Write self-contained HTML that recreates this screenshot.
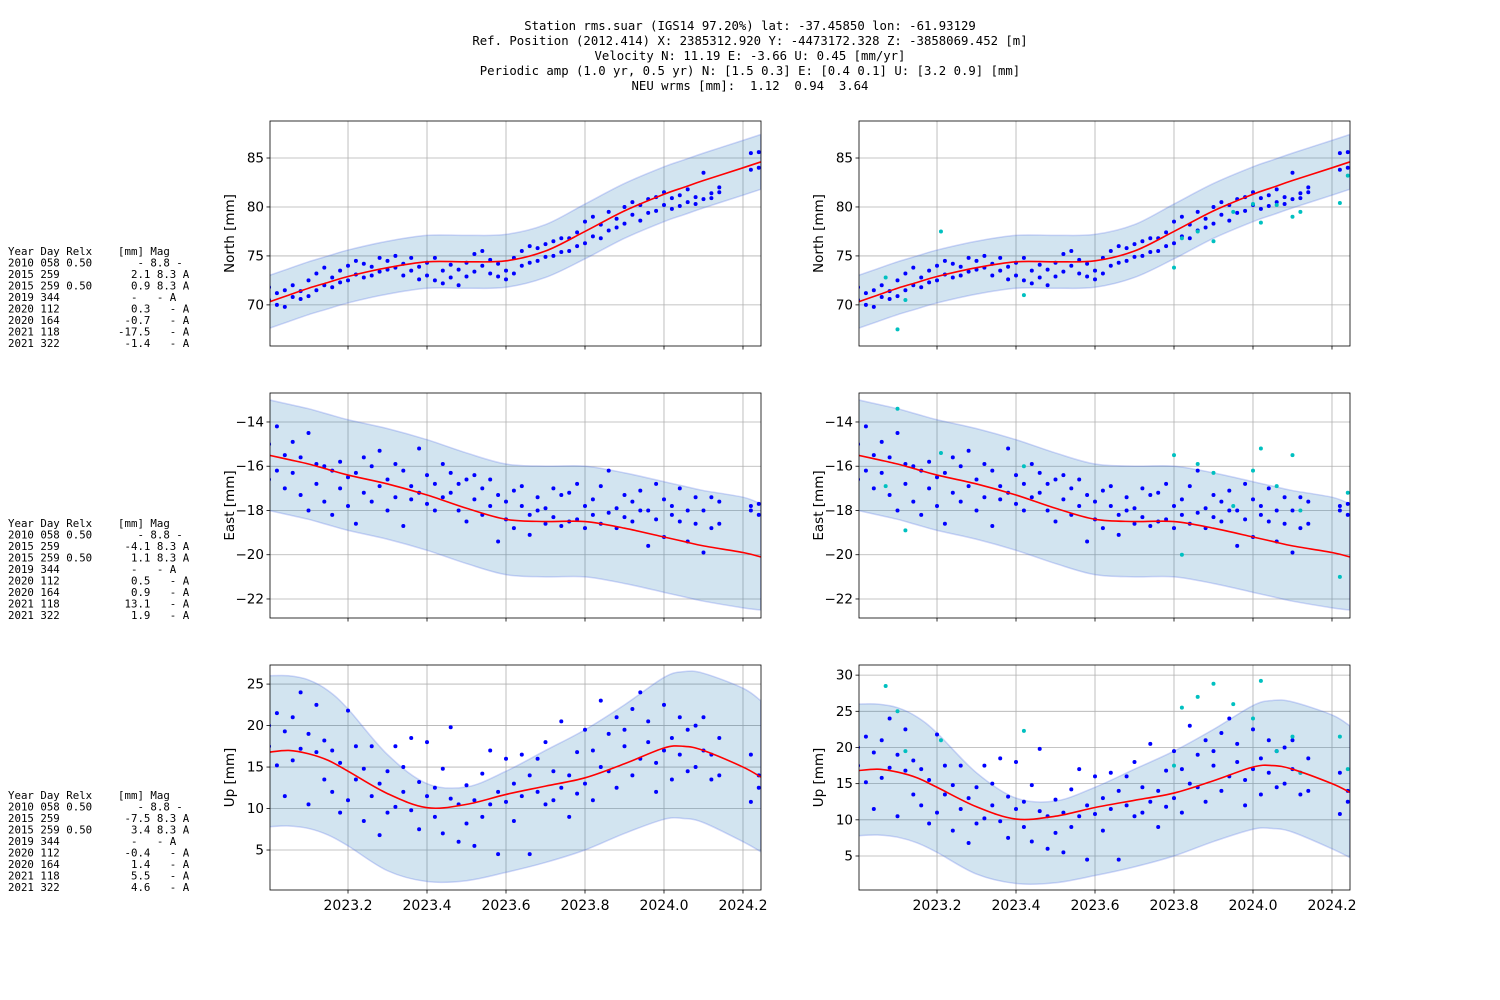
<!DOCTYPE html>
<html><head><meta charset="utf-8"><style>
body{margin:0;background:#fff;}
svg{display:block;font-family:"DejaVu Sans","Liberation Sans",sans-serif;}
.mono{font-family:"DejaVu Sans Mono","Liberation Mono",monospace;}
</style></head><body>
<svg id="fig" width="1500" height="1000" viewBox="0 0 1500 1000">
<rect width="1500" height="1000" fill="#fff"/>
<g class="mono" font-size="12.3" text-anchor="middle" fill="#000">
<text x="750" y="30" xml:space="preserve">Station rms.suar (IGS14 97.20%) lat: -37.45850 lon: -61.93129</text>
<text x="750" y="45" xml:space="preserve">Ref. Position (2012.414) X: 2385312.920 Y: -4473172.328 Z: -3858069.452 [m]</text>
<text x="750" y="60" xml:space="preserve">Velocity N: 11.19 E: -3.66 U: 0.45 [mm/yr]</text>
<text x="750" y="75" xml:space="preserve">Periodic amp (1.0 yr, 0.5 yr) N: [1.5 0.3] E: [0.4 0.1] U: [3.2 0.9] [mm]</text>
<text x="750" y="90" xml:space="preserve">NEU wrms [mm]:  1.12  0.94  3.64</text>
</g>
</svg>
<script>
const times=[2023.00,2023.02,2023.04,2023.06,2023.08,2023.10,2023.12,2023.14,2023.16,2023.18,2023.20,2023.22,2023.24,2023.26,2023.28,2023.30,2023.32,2023.34,2023.36,2023.38,2023.40,2023.42,2023.44,2023.46,2023.48,2023.50,2023.52,2023.54,2023.56,2023.58,2023.60,2023.62,2023.64,2023.66,2023.68,2023.70,2023.72,2023.74,2023.76,2023.78,2023.80,2023.82,2023.84,2023.86,2023.88,2023.90,2023.92,2023.94,2023.96,2023.98,2024.00,2024.02,2024.04,2024.06,2024.08,2024.10,2024.12,2024.14,2024.16,2024.18,2024.20,2024.22,2024.24];
const northA=[70.5,71.2,71.5,70.8,71.4,72.5,73.2,72.0,72.8,73.5,74.0,73.1,72.8,73.9,74.8,73.6,75.0,74.2,74.8,73.9,73.0,72.5,73.5,74.1,73.6,74.3,75.2,74.0,73.2,72.9,73.5,74.8,75.5,74.3,75.8,76.2,75.0,75.4,76.8,77.4,78.5,77.0,78.2,79.5,77.9,80.0,79.2,78.6,80.8,81.0,80.2,79.8,81.2,80.5,81.0,80.8,81.4,82.0,null,null,null,83.8,85.6];
const northB=[71.8,70.0,69.8,72.0,70.6,70.9,71.5,73.8,71.8,72.3,72.5,74.5,74.2,73.0,73.4,74.5,73.8,73.0,73.5,72.6,74.3,74.8,72.2,72.8,72.0,72.9,73.4,75.5,74.6,74.2,72.6,73.2,74.0,76.0,74.5,74.9,76.5,76.8,75.5,76.0,76.3,79.0,76.8,77.6,78.8,78.3,80.5,80.2,79.4,79.6,81.5,80.9,80.1,81.8,80.3,83.5,80.9,81.5,null,null,null,85.5,84.0];
const eastA=[-15.0,-14.2,-15.5,-14.9,-15.6,-14.5,-16.8,-17.6,-16.2,-17.0,-16.5,-18.6,-15.6,-16.0,-15.3,-16.6,-17.4,-16.2,-16.9,-15.2,-16.4,-16.8,-15.9,-17.2,-18.0,-16.6,-17.5,-17.0,-16.6,-19.4,-17.6,-17.1,-17.8,-19.1,-17.4,-17.9,-17.0,-18.7,-17.2,-18.4,-17.8,-17.5,-16.9,-16.2,-17.9,-18.3,-17.6,-18.0,-19.6,-16.8,-17.5,-18.2,-17.0,-18.0,-17.4,-19.9,-17.4,-17.6,null,null,null,-17.8,-18.2];
const eastB=[-16.6,-16.2,-17.0,-16.3,-17.3,-18.0,-15.9,-16.0,-18.2,-15.8,-17.8,-16.3,-17.2,-17.6,-16.9,-18.0,-15.9,-18.7,-17.5,-17.2,-17.7,-18.0,-17.4,-16.3,-16.8,-18.5,-16.4,-18.2,-17.8,-17.3,-18.4,-18.8,-16.9,-18.2,-18.0,-18.6,-18.3,-17.3,-18.5,-16.8,-18.8,-18.2,-18.6,-18.1,-18.8,-17.3,-18.5,-17.1,-18.0,-18.4,-19.2,-17.8,-18.5,-19.4,-18.6,-18.0,-18.8,-18.6,null,null,null,-18.0,-17.7];
const upA=[17.5,15.2,19.3,21.0,24.0,10.5,16.8,18.2,12.0,15.5,21.8,13.5,8.5,11.5,6.8,14.5,17.5,12.0,9.8,13.2,18.0,12.5,14.8,19.8,6.0,12.8,5.5,14.2,17.0,12.0,16.0,8.5,11.5,4.5,12.0,10.5,14.5,20.5,9.0,16.8,19.5,11.0,23.0,19.0,21.0,17.5,14.0,24.0,18.0,15.5,17.0,13.5,16.5,19.5,15.0,21.0,16.5,18.5,null,null,null,16.5,12.5];
const upB=[20.0,21.5,11.5,15.8,17.2,19.0,22.5,13.5,17.0,9.5,11.0,17.5,14.8,17.5,13.0,9.5,10.2,15.0,18.5,7.5,11.5,9.0,7.0,11.2,10.5,8.2,11.0,9.0,10.5,4.5,10.8,13.0,16.5,14.0,16.0,18.0,11.0,12.5,14.0,11.8,13.0,17.0,15.0,14.5,12.5,19.5,22.0,16.0,20.5,12.0,22.5,18.5,21.0,14.5,20.0,17.0,13.5,14.0,null,null,null,10.8,14.0];
const cyanT=[2023.07,2023.10,2023.12,2023.21,2023.42,2023.80,2023.82,2023.86,2023.90,2023.95,2024.00,2024.02,2024.06,2024.10,2024.12,2024.22,2024.24];
const cyanN=[72.8,67.5,70.5,77.5,71.0,73.8,76.8,77.5,76.5,79.5,80.3,78.4,80.2,79.0,79.5,80.4,83.2];
const cyanE=[-16.9,-13.4,-18.9,-15.4,-16.0,-15.5,-20.0,-15.9,-16.3,-17.8,-16.2,-15.2,-16.9,-15.5,-18.0,-21.0,-17.2];
const cyanU=[28.5,25.0,19.5,21.0,22.3,17.5,25.5,27.0,28.8,26.0,24.0,29.2,19.5,21.5,16.5,21.5,17.0];
const modelT=[2023.0,2023.05,2023.1,2023.15,2023.2,2023.3,2023.4,2023.5,2023.6,2023.7,2023.8,2023.9,2024.0,2024.05,2024.1,2024.2,2024.245];
const modelN=[70.3,71.0,71.7,72.3,72.9,73.8,74.4,74.4,74.5,75.5,77.5,79.6,81.3,82.0,82.7,84.0,84.6];
const modelE=[-15.5,-15.7,-15.9,-16.15,-16.4,-16.8,-17.3,-17.9,-18.4,-18.5,-18.5,-18.8,-19.2,-19.4,-19.6,-19.9,-20.1];
const modelU=[16.8,17.0,16.6,15.8,14.5,11.8,10.1,10.5,11.7,12.7,13.7,15.4,17.3,17.5,17.0,15.0,13.8];
const bandN=[2.7,2.7,2.7,2.7,2.7,2.7,2.7,2.7,2.7,2.7,2.8,2.8,2.8,2.8,2.8,2.8,2.8];
const bandE=[2.5,2.5,2.5,2.5,2.5,2.5,2.5,2.5,2.5,2.5,2.5,2.5,2.5,2.5,2.5,2.5,2.4];
const upUpper=[26.0,26.0,25.5,24.2,22.0,16.5,13.0,12.6,14.5,17.0,19.5,22.5,25.8,26.5,26.3,24.5,23.0];
const upLower=[7.8,7.9,7.6,6.8,5.5,2.5,1.2,1.3,2.3,3.5,5.0,7.0,8.7,8.8,8.3,6.0,4.8];
const xTicks=[2023.2,2023.4,2023.6,2023.8,2024.0,2024.2];
const xTickLabels=["2023.2","2023.4","2023.6","2023.8","2024.0","2024.2"];
const nTicks=[70,75,80,85], eTicks=[-14,-16,-18,-20,-22], uTicksL=[5,10,15,20,25], uTicksR=[5,10,15,20,25,30];
const legendLines=[
["Year Day Relx    [mm] Mag","2010 058 0.50       - 8.8 -","2015 259           2.1 8.3 A","2015 259 0.50      0.9 8.3 A","2019 344           -   - A","2020 112           0.3   - A","2020 164          -0.7   - A","2021 118         -17.5   - A","2021 322          -1.4   - A"],
["Year Day Relx    [mm] Mag","2010 058 0.50       - 8.8 -","2015 259          -4.1 8.3 A","2015 259 0.50      1.1 8.3 A","2019 344           -   - A","2020 112           0.5   - A","2020 164           0.9   - A","2021 118          13.1   - A","2021 322           1.9   - A"],
["Year Day Relx    [mm] Mag","2010 058 0.50       - 8.8 -","2015 259          -7.5 8.3 A","2015 259 0.50      3.4 8.3 A","2019 344           -   - A","2020 112          -0.4   - A","2020 164           1.4   - A","2021 118           5.5   - A","2021 322           4.6   - A"]];

const NS="http://www.w3.org/2000/svg";
const svg=document.getElementById('fig');
function mk(tag,attrs,parent){const e=document.createElementNS(NS,tag);for(const k in attrs)e.setAttribute(k,attrs[k]);(parent||svg).appendChild(e);return e;}
function smooth(pts){let d='M'+pts[0][0]+','+pts[0][1];
  for(let i=0;i<pts.length-1;i++){const p0=pts[Math.max(0,i-1)],p1=pts[i],p2=pts[i+1],p3=pts[Math.min(pts.length-1,i+2)];
    const c1=[p1[0]+(p2[0]-p0[0])/6,p1[1]+(p2[1]-p0[1])/6],c2=[p2[0]-(p3[0]-p1[0])/6,p2[1]-(p3[1]-p1[1])/6];
    d+='C'+c1.join(',')+' '+c2.join(',')+' '+p2.join(',');}
  return d;}
const X0=2023.0025, X1=2024.2456;
function panel(px,py,ymin,ymax,yTicks,label,model,upperArr,lowerArr,sA,sB,cyan,showX,name){
  const W=491,H=225;
  const g=mk('g',{});
  
  
  const xs=t=>px+(t-X0)/(X1-X0)*W;
  const ys=v=>py+(ymax-v)/(ymax-ymin)*H;
  const clipId='c'+name;
  const cp=mk('clipPath',{id:clipId},g);mk('rect',{x:px,y:py,width:W,height:H},cp);
  const inner=mk('g',{'clip-path':'url(#'+clipId+')'},g);
  xTicks.forEach(t=>{const l=mk('line',{x1:xs(t),x2:xs(t),y1:py,y2:py+H,stroke:'#b0b0b0','stroke-width':0.8},inner);});
  yTicks.forEach(v=>{const l=mk('line',{x1:px,x2:px+W,y1:ys(v),y2:ys(v),stroke:'#b0b0b0','stroke-width':0.8},inner);});
  const up=modelT.map((t,i)=>[xs(t),ys(upperArr[i])]);
  const lo=modelT.map((t,i)=>[xs(t),ys(lowerArr[i])]).reverse();
  const bd=smooth(up)+'L'+smooth(lo).slice(1)+'Z';
  const band=mk('path',{d:bd,fill:'rgba(31,119,180,0.2)',stroke:'rgba(70,100,230,0.25)','stroke-width':1.5},inner);
  
  
  [sA,sB].forEach(arr=>arr.forEach((v,i)=>{if(v===null)return;
    const c=mk('circle',{cx:xs(times[i]),cy:ys(v),r:2,fill:'#0000ff'},inner);
    
    }));
  if(cyan){cyan.forEach((v,i)=>{const c=mk('circle',{cx:xs(cyanT[i]),cy:ys(v),r:2,fill:'#00c0c0'},inner);
    
    });}
  const md=smooth(modelT.map((t,i)=>[xs(t),ys(model[i])]));
  const ml=mk('path',{d:md,fill:'none',stroke:'#ff0000','stroke-width':1.6},inner);
  
  
  mk('rect',{x:px,y:py,width:W,height:H,fill:'none',stroke:'#000','stroke-width':0.8},g);
  yTicks.forEach(v=>{mk('line',{x1:px-3.5,x2:px,y1:ys(v),y2:ys(v),stroke:'#000','stroke-width':0.8},g);
    const t=mk('text',{x:px-6,y:ys(v)+4.5,'font-size':13.5,'text-anchor':'end'},g);t.textContent=(v<0?'\u2212'+(-v):v);
    });
  xTicks.forEach((tk,i)=>{mk('line',{x1:xs(tk),x2:xs(tk),y1:py+H,y2:py+H+3.5,stroke:'#000','stroke-width':0.8},g);
    if(showX){const t=mk('text',{x:xs(tk),y:py+H+20,'font-size':14,'text-anchor':'middle'},g);t.textContent=xTickLabels[i];
      }});
  const yl=mk('text',{x:0,y:0,'font-size':13.5,'text-anchor':'middle',transform:'translate('+(px-36)+','+(py+H/2)+') rotate(-90)'},g);
  yl.textContent=label;
  
  
}
const nU=modelN.map((v,i)=>v+bandN[i]), nL=modelN.map((v,i)=>v-bandN[i]);
const eU=modelE.map((v,i)=>v+bandE[i]), eL=modelE.map((v,i)=>v-bandE[i]);
panel(270,121,65.8,88.78,nTicks,'North [mm]',modelN,nU,nL,northA,northB,null,false,'north-left');
panel(859,121,65.8,88.78,nTicks,'North [mm]',modelN,nU,nL,northA,northB,cyanN,false,'north-right');
panel(270,393,-22.86,-12.69,eTicks,'East [mm]',modelE,eU,eL,eastA,eastB,null,false,'east-left');
panel(859,393,-22.86,-12.69,eTicks,'East [mm]',modelE,eU,eL,eastA,eastB,cyanE,false,'east-right');
panel(270,665,0.18,27.3,uTicksL,'Up [mm]',modelU,upUpper,upLower,upA,upB,null,true,'up-left');
panel(859,665,0.3,31.4,uTicksR,'Up [mm]',modelU,upUpper,upLower,upA,upB,cyanU,true,'up-right');
[255,527,799].forEach((y0,k)=>{
  const g=mk('g',{'font-size':10.75,fill:'#000'});
  g.setAttribute('class','mono');
  
  
  legendLines[k].forEach((s,i)=>{const t=mk('text',{x:8,y:y0+i*11.5},g);t.setAttributeNS('http://www.w3.org/XML/1998/namespace','xml:space','preserve');t.style.whiteSpace='pre';t.textContent=s;});
});
</script>
</body></html>
